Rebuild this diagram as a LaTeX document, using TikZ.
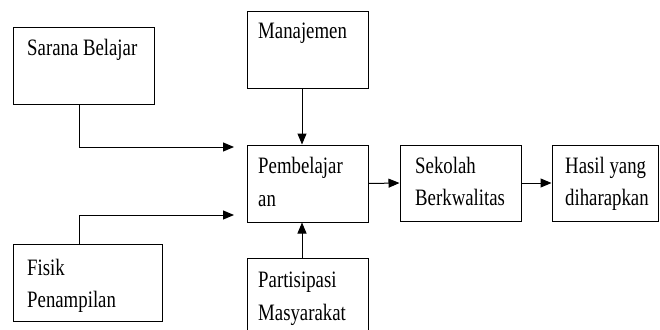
\documentclass[tikz,border=0pt]{standalone}
\usepackage{fontspec}
\setmainfont{Liberation Serif}[FakeStretch=0.8]
\usetikzlibrary{arrows.meta,calc}
\begin{document}
\begin{tikzpicture}[x=1pt,y=-1pt,
  box/.style={draw, line width=1pt, rectangle, inner sep=0pt},
  txt/.style={anchor=base west, inner sep=0pt, font=\fontsize{23.5}{32}\selectfont},
  arr/.style={line width=1pt, -{Triangle[length=11pt,width=9pt]}}]
\useasboundingbox (0,0) rectangle (660,329);
\clip (0,0) rectangle (660,329);
% boxes
\node[box, minimum width=141pt, minimum height=76pt] (sar) at (83.5,66) {};
\node[box, minimum width=121pt, minimum height=76pt] (man) at (307.5,50) {};
\node[box, minimum width=121pt, minimum height=77pt] (pem) at (307.5,183.5) {};
\node[box, minimum width=149pt, minimum height=77pt] (fis) at (87.5,282.5) {};
\node[box, minimum width=121pt, minimum height=87pt] (par) at (307.5,301.5) {};
\node[box, minimum width=121pt, minimum height=76pt] (sek) at (460.5,183) {};
\node[box, minimum width=106pt, minimum height=76pt] (has) at (605,183) {};
% texts
\node[txt] (sarT) at (27,56) {Sarana Belajar};
\node[txt] (manT) at (258,39) {Manajemen};
\node[txt] (pemT1) at (258,173) {Pembelajar};
\node[txt] (pemT2) at (258,206) {an};
\node[txt] (fisT1) at (27,275) {Fisik};
\node[txt] (fisT2) at (27,307) {Penampilan};
\node[txt] (parT1) at (258,287) {Partisipasi};
\node[txt] (parT2) at (258,320) {Masyarakat};
\node[txt] (sekT1) at (415,173) {Sekolah};
\node[txt] (sekT2) at (415,205) {Berkwalitas};
\node[txt] (hasT1) at (565,173) {Hasil yang};
\node[txt] (hasT2) at (565,205) {diharapkan};
% connectors
\coordinate (sarTurn) at (79,147);
\coordinate (sarEnd) at (234,147);
\coordinate (fisTurn) at (79,215);
\coordinate (fisEnd) at (234,215);
\coordinate (mx) at (302,0);
\draw[arr] (sar.south -| sarTurn) -- (sarTurn) -- (sarEnd);
\draw[arr] (fis.north -| fisTurn) -- (fisTurn) -- (fisEnd);
\draw[arr] (man.south -| mx) -- (pem.north -| mx);
\draw[arr] (par.north -| mx) -- (pem.south -| mx);
\draw[arr] (pem.east) -- (sek.west);
\draw[arr] (sek.east) -- (has.west);
\end{tikzpicture}
\end{document}
